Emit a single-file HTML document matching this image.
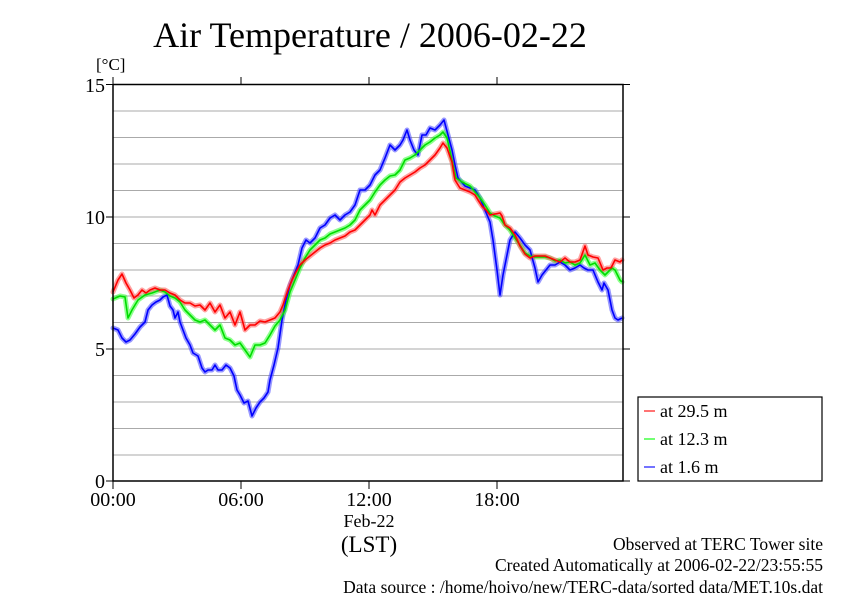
<!DOCTYPE html>
<html><head><meta charset="utf-8"><style>
html,body{margin:0;padding:0;background:#fff;}
svg{display:block;font-family:"Liberation Serif",serif;}
</style></head><body>
<svg width="842" height="595" viewBox="0 0 842 595" xmlns="http://www.w3.org/2000/svg">
<text x="370" y="47" font-size="36" text-anchor="middle">Air Temperature / 2006-02-22</text>
<text x="96" y="70" font-size="17">[°C]</text>
<g stroke="#aaa" stroke-width="1">
<line x1="113" y1="111" x2="623" y2="111"/><line x1="113" y1="137.5" x2="623" y2="137.5"/>
<line x1="113" y1="164" x2="623" y2="164"/><line x1="113" y1="190.5" x2="623" y2="190.5"/>
<line x1="113" y1="217" x2="623" y2="217"/><line x1="113" y1="243.5" x2="623" y2="243.5"/>
<line x1="113" y1="270" x2="623" y2="270"/><line x1="113" y1="296" x2="623" y2="296"/>
<line x1="113" y1="322.5" x2="623" y2="322.5"/><line x1="113" y1="349" x2="623" y2="349"/>
<line x1="113" y1="375.5" x2="623" y2="375.5"/><line x1="113" y1="402" x2="623" y2="402"/>
<line x1="113" y1="428.5" x2="623" y2="428.5"/><line x1="113" y1="455" x2="623" y2="455"/>
</g>
<g fill="none" stroke-linejoin="round" stroke-linecap="round" stroke-width="5" stroke-opacity="0.55">
<polyline stroke="#44f" points="113,328 118,330 122,338 126,342 130,340 135,334 140,327 145,322 148,310 152,305 156,302 160,300 163,297 167,295 170,306 173,310 175,318 178,312 180,322 183,330 186,338 190,345 193,353 198,356 202,368 205,372 208,370 212,370 215,365 218,370 222,370 226,365 230,368 234,376 237,390 240,395 244,403 248,401 252,416 256,408 260,402 264,398 268,392 270,380 274,365 278,348 282,320 286,300 290,285 294,275 298,265 302,248 306,240 310,243 315,238 320,228 325,225 330,218 335,215 340,220 345,215 350,212 355,205 360,190 365,190 370,185 375,175 380,170 385,158 390,145 395,150 400,145 403,140 407,130 410,140 414,150 418,155 422,135 426,135 430,128 435,130 440,125 444,120 448,135 452,150 455,165 458,178 465,186 470,188 475,190 480,198 485,210 490,222 493,240 497,270 500,295 503,275 507,255 510,240 515,232 520,238 525,245 530,250 535,268 538,282 542,275 546,270 550,265 555,265 560,262 565,265 570,270 575,268 580,265 584,268 588,270 593,270 598,282 602,290 604,283 608,290 612,310 615,318 618,320 622,318"/>
<polyline stroke="#3f3" points="113,299 120,296 125,297 128,318 132,310 138,300 145,295 152,293 160,290 165,292 170,296 175,298 180,302 185,310 190,315 195,320 200,322 205,320 210,325 215,330 220,325 225,338 230,340 235,345 240,343 245,350 250,357 255,345 260,345 265,343 270,335 275,326 280,320 285,310 290,292 295,280 300,268 305,258 310,250 315,245 320,240 325,238 330,234 335,232 340,230 345,228 350,225 355,220 360,210 365,205 370,200 375,192 380,185 385,180 390,176 395,175 400,170 405,160 410,158 415,155 420,150 425,145 430,142 435,138 440,135 443,132 447,138 452,160 456,178 462,182 470,186 475,192 480,198 485,205 490,213 495,216 500,218 505,225 510,230 515,238 520,245 525,253 530,256 535,257 540,257 545,257 550,258 555,261 560,260 565,263 570,262 575,265 580,263 585,255 590,265 595,263 600,270 605,275 608,272 612,268 615,270 620,280 622,282"/>
<polyline stroke="#f55" points="113,292 118,280 122,274 126,283 130,290 134,298 138,295 142,290 146,293 150,290 155,288 160,290 165,290 170,293 175,295 180,300 185,303 190,303 195,306 200,305 205,310 210,303 215,312 220,305 225,318 230,312 235,325 240,312 245,330 250,325 255,325 260,321 265,322 270,320 275,318 280,312 283,305 288,290 292,280 296,272 300,265 305,260 310,256 315,252 320,248 325,245 330,243 335,240 340,238 345,236 350,232 355,230 360,225 365,220 370,215 372,210 375,215 380,205 385,200 390,195 395,190 400,182 405,178 410,175 415,172 420,168 425,165 430,160 435,155 440,148 443,143 447,148 452,162 455,180 460,188 465,190 470,192 475,195 478,200 482,206 486,210 490,215 495,214 500,213 502,216 505,225 510,228 515,235 520,246 525,254 530,258 535,256 540,256 545,256 550,258 555,260 560,262 565,258 570,262 575,262 580,260 585,246 588,255 593,257 598,258 603,270 607,268 611,268 615,260 620,262 622,260"/>
</g>
<g fill="none" stroke-linejoin="round" stroke-width="1.6">
<polyline stroke="#00f" points="113,328 118,330 122,338 126,342 130,340 135,334 140,327 145,322 148,310 152,305 156,302 160,300 163,297 167,295 170,306 173,310 175,318 178,312 180,322 183,330 186,338 190,345 193,353 198,356 202,368 205,372 208,370 212,370 215,365 218,370 222,370 226,365 230,368 234,376 237,390 240,395 244,403 248,401 252,416 256,408 260,402 264,398 268,392 270,380 274,365 278,348 282,320 286,300 290,285 294,275 298,265 302,248 306,240 310,243 315,238 320,228 325,225 330,218 335,215 340,220 345,215 350,212 355,205 360,190 365,190 370,185 375,175 380,170 385,158 390,145 395,150 400,145 403,140 407,130 410,140 414,150 418,155 422,135 426,135 430,128 435,130 440,125 444,120 448,135 452,150 455,165 458,178 465,186 470,188 475,190 480,198 485,210 490,222 493,240 497,270 500,295 503,275 507,255 510,240 515,232 520,238 525,245 530,250 535,268 538,282 542,275 546,270 550,265 555,265 560,262 565,265 570,270 575,268 580,265 584,268 588,270 593,270 598,282 602,290 604,283 608,290 612,310 615,318 618,320 622,318"/>
<polyline stroke="#0d0" points="113,299 120,296 125,297 128,318 132,310 138,300 145,295 152,293 160,290 165,292 170,296 175,298 180,302 185,310 190,315 195,320 200,322 205,320 210,325 215,330 220,325 225,338 230,340 235,345 240,343 245,350 250,357 255,345 260,345 265,343 270,335 275,326 280,320 285,310 290,292 295,280 300,268 305,258 310,250 315,245 320,240 325,238 330,234 335,232 340,230 345,228 350,225 355,220 360,210 365,205 370,200 375,192 380,185 385,180 390,176 395,175 400,170 405,160 410,158 415,155 420,150 425,145 430,142 435,138 440,135 443,132 447,138 452,160 456,178 462,182 470,186 475,192 480,198 485,205 490,213 495,216 500,218 505,225 510,230 515,238 520,245 525,253 530,256 535,257 540,257 545,257 550,258 555,261 560,260 565,263 570,262 575,265 580,263 585,255 590,265 595,263 600,270 605,275 608,272 612,268 615,270 620,280 622,282"/>
<polyline stroke="#f00" points="113,292 118,280 122,274 126,283 130,290 134,298 138,295 142,290 146,293 150,290 155,288 160,290 165,290 170,293 175,295 180,300 185,303 190,303 195,306 200,305 205,310 210,303 215,312 220,305 225,318 230,312 235,325 240,312 245,330 250,325 255,325 260,321 265,322 270,320 275,318 280,312 283,305 288,290 292,280 296,272 300,265 305,260 310,256 315,252 320,248 325,245 330,243 335,240 340,238 345,236 350,232 355,230 360,225 365,220 370,215 372,210 375,215 380,205 385,200 390,195 395,190 400,182 405,178 410,175 415,172 420,168 425,165 430,160 435,155 440,148 443,143 447,148 452,162 455,180 460,188 465,190 470,192 475,195 478,200 482,206 486,210 490,215 495,214 500,213 502,216 505,225 510,228 515,235 520,246 525,254 530,258 535,256 540,256 545,256 550,258 555,260 560,262 565,258 570,262 575,262 580,260 585,246 588,255 593,257 598,258 603,270 607,268 611,268 615,260 620,262 622,260"/>
</g>
<g stroke="#000" stroke-width="1.5" fill="none">
<polyline points="113,84.5 113,481 623,481 623,84.5 113,84.5"/>
</g>
<g stroke="#000" stroke-width="1">
<line x1="106" y1="84.5" x2="113" y2="84.5"/><line x1="106" y1="217" x2="113" y2="217"/>
<line x1="106" y1="349" x2="113" y2="349"/><line x1="106" y1="481" x2="113" y2="481"/>
<line x1="623" y1="84.5" x2="630" y2="84.5"/><line x1="623" y1="217" x2="630" y2="217"/>
<line x1="623" y1="349" x2="630" y2="349"/><line x1="623" y1="481" x2="630" y2="481"/>
<line x1="113" y1="481" x2="113" y2="489"/><line x1="241" y1="481" x2="241" y2="489"/>
<line x1="369" y1="481" x2="369" y2="489"/><line x1="497" y1="481" x2="497" y2="489"/>
<line x1="113" y1="84.5" x2="113" y2="77"/><line x1="241" y1="84.5" x2="241" y2="77"/>
<line x1="369" y1="84.5" x2="369" y2="77"/><line x1="497" y1="84.5" x2="497" y2="77"/>
</g>
<g font-size="20" text-anchor="end">
<text x="105" y="92">15</text><text x="105" y="224">10</text><text x="105" y="356">5</text><text x="105" y="488">0</text>
</g>
<g font-size="20" text-anchor="middle">
<text x="113" y="506">00:00</text><text x="241" y="506">06:00</text><text x="369" y="506">12:00</text><text x="497" y="506">18:00</text>
<text x="369" y="527" font-size="18">Feb-22</text>
<text x="369" y="552" font-size="23">(LST)</text>
</g>
<rect x="638" y="397" width="184" height="84" fill="#fff" stroke="#000" stroke-width="1.2"/>
<g stroke-width="1.5">
<line x1="644" y1="411" x2="655" y2="411" stroke="#f44"/>
<line x1="644" y1="439" x2="655" y2="439" stroke="#4f4"/>
<line x1="644" y1="467" x2="655" y2="467" stroke="#44f"/>
</g>
<g font-size="18">
<text x="660" y="417">at 29.5 m</text><text x="660" y="445">at 12.3 m</text><text x="660" y="473">at 1.6 m</text>
</g>
<g font-size="17.5" text-anchor="end">
<text x="823" y="550">Observed at TERC Tower site</text>
<text x="823" y="571">Created Automatically at 2006-02-22/23:55:55</text>
<text x="823" y="593">Data source : /home/hoivo/new/TERC-data/sorted  data/MET.10s.dat</text>
</g>
</svg>
</body></html>
